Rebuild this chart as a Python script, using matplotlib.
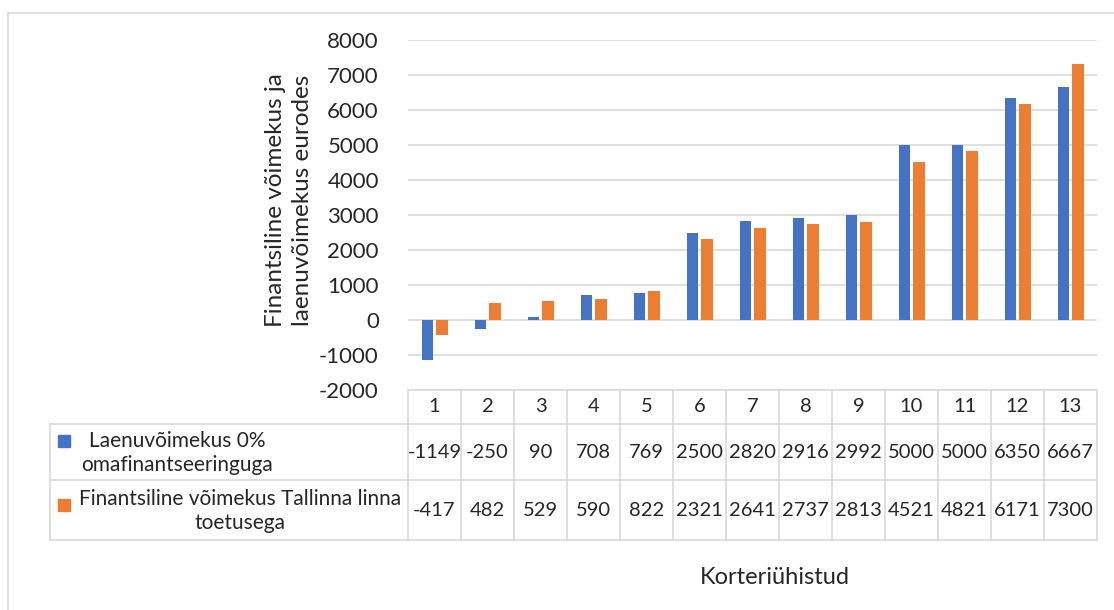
import matplotlib
matplotlib.use("Agg")
import matplotlib.pyplot as plt
import numpy as np
from matplotlib.lines import Line2D
from matplotlib.patches import Rectangle

plt.rcParams["font.family"] = ["Lato", "DejaVu Sans"]

categories = ["1", "2", "3", "4", "5", "6", "7", "8", "9", "10", "11", "12", "13"]
laenuvoimekus = [-1149, -250, 90, 708, 769, 2500, 2820, 2916, 2992, 5000, 5000, 6350, 6667]
finantsiline = [-417, 482, 529, 590, 822, 2321, 2641, 2737, 2813, 4521, 4821, 6171, 7300]
series_names = ["Laenuvõimekus 0%\nomafinantseeringuga",
                "Finantsiline võimekus Tallinna linna\ntoetusega"]
y_ticks = [-2000, -1000, 0, 1000, 2000, 3000, 4000, 5000, 6000, 7000, 8000]

BLUE = "#4472C4"
ORANGE = "#ED7D31"
GRID = "#D9D9D9"
TXT = "#262626"

W, H = 1114, 610
fig = plt.figure(figsize=(W / 100, H / 100), dpi=100)


def fx(px):
    return px / W


def fy(py):
    return 1 - py / H


def hline(y, x0, x1):
    fig.add_artist(Line2D([fx(x0), fx(x1)], [fy(y), fy(y)], color=GRID, lw=1.2))


def vline(x, y0, y1):
    fig.add_artist(Line2D([fx(x), fx(x)], [fy(y0), fy(y1)], color=GRID, lw=1.2))


# outer chart border (cut off at right and bottom)
hline(13, 8, W)
vline(8, 13, H)

left, right, top, bottom = 408, 1097, 40, 390
ax = fig.add_axes([fx(left), fy(bottom), fx(right) - fx(left), fy(top) - fy(bottom)])

x = np.arange(1, len(categories) + 1)
bw = 0.22
ax.bar(x - 0.135, laenuvoimekus, bw, color=BLUE, zorder=3)
ax.bar(x + 0.14, finantsiline, bw, color=ORANGE, zorder=3)

ax.set_xlim(0.5, len(categories) + 0.5)
ax.set_ylim(-2000, 8000)
ax.set_yticks(y_ticks)
ax.set_yticklabels([str(v) for v in y_ticks], fontsize=16, color=TXT)
ax.set_xticks([])
ax.grid(axis="y", color=GRID, lw=1.2, zorder=0)
ax.tick_params(axis="y", length=0, pad=21)
for s in ax.spines.values():
    s.set_visible(False)

fig.text(fx(289), fy(200), "Finantsiline võimekus ja\nlaenuvõimekus eurodes", rotation=90,
         ha="center", va="center", fontsize=17.5, color=TXT, linespacing=1.3)

# data table
col_w = (right - left) / len(categories)
row_y = [390, 424, 480, 540]
hline(row_y[0], left, right)
for yy in row_y[1:]:
    hline(yy, 50, right)
vline(50, row_y[1], row_y[3])
for i in range(len(categories) + 1):
    vline(left + i * col_w, row_y[0], row_y[3])

for i, c in enumerate(categories):
    cx = left + (i + 0.5) * col_w
    fig.text(fx(cx), fy((row_y[0] + row_y[1]) / 2), c, ha="center", va="center",
             fontsize=14.5, color=TXT)
    fig.text(fx(cx), fy((row_y[1] + row_y[2]) / 2), str(laenuvoimekus[i]), ha="center",
             va="center", fontsize=14.5, color=TXT)
    fig.text(fx(cx), fy((row_y[2] + row_y[3]) / 2), str(finantsiline[i]), ha="center",
             va="center", fontsize=14.5, color=TXT)

# legend keys in table
fig.add_artist(Rectangle((fx(58), fy(447)), fx(12), fy(0) - fy(12), color=BLUE,
                         transform=fig.transFigure))
fig.add_artist(Rectangle((fx(58), fy(511)), fx(12), fy(0) - fy(12), color=ORANGE,
                         transform=fig.transFigure))
fig.text(fx(177), fy(453), series_names[0], ha="center", va="center", fontsize=15,
         color=TXT, linespacing=1.25)
fig.text(fx(240), fy(511), series_names[1], ha="center", va="center", fontsize=15,
         color=TXT, linespacing=1.25)

fig.text(fx(775), fy(578), "Korteriühistud", ha="center", va="center", fontsize=17, color=TXT)

fig.savefig("out.png", dpi=100)
